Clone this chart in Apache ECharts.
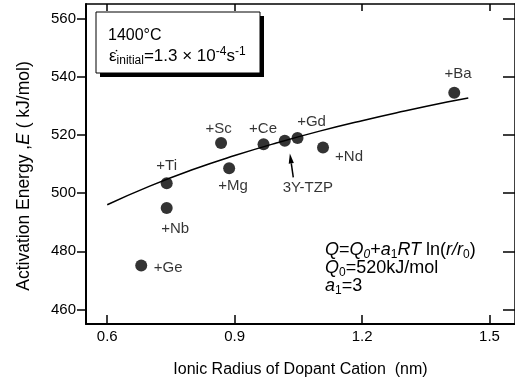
<!DOCTYPE html>
<html><head><meta charset="utf-8">
<script src="https://cdn.jsdelivr.net/npm/echarts@6/dist/echarts.min.js"></script>
<style>html,body{margin:0;padding:0;background:#fff}#c{width:515px;height:383px}</style>
</head><body><div id="c"></div>
<script>
// ---- data ----
const dopants = ['+Ge', '+Nb', '+Ti', '+Sc', '+Mg', '+Ce', '3Y-TZP', '+Gd', '+Nd', '+Ba'];
const radius  = [0.68, 0.74, 0.74, 0.868, 0.887, 0.968, 1.018, 1.048, 1.108, 1.417];
const energy  = [475.1, 494.9, 503.4, 517.2, 508.5, 516.8, 518.0, 518.9, 515.7, 534.5];
const fitRadius = [0.60, 0.70, 0.80, 0.90, 1.00, 1.10, 1.20, 1.30, 1.40, 1.45];
const fitEnergy = [496.0, 502.4, 508.0, 512.9, 517.3, 521.3, 524.9, 528.2, 531.3, 532.7];
const xTicks = [0.6, 0.9, 1.2, 1.5];
const xTickLabels = ['0.6', '0.9', '1.2', '1.5'];
const yTicks = [460, 480, 500, 520, 540, 560];
const yTickLabels = ['460', '480', '500', '520', '540', '560'];
const arrowTail = [1.038, 505.4];
const arrowHead = [1.030, 513.6];

// ---- styling ----
const FONT = '"Liberation Sans", Arial, Helvetica, sans-serif';
const labelOffsets = [[27, 2.5], [8.5, 21], [0, -17], [-2.5, -14], [4, 17], [-0.5, -15], [23, 47], [14, -16.5], [26, 9], [3.7, -19]];

const chart = echarts.init(document.getElementById('c'), null, {renderer: 'canvas'});

const axisColor = '#000';
const option = {
  animation: false,
  backgroundColor: '#fff',
  grid: {left: 86, top: 4, width: 434.3, height: 322, containLabel: false},
  xAxis: [
    {
      type: 'value', min: 0.55, max: 1.56, position: 'bottom',
      axisLine: {show: true, onZero: false, lineStyle: {color: axisColor, width: 2}},
      axisTick: {show: true, inside: true, length: 9, customValues: xTicks, lineStyle: {color: axisColor, width: 1.5}},
      axisLabel: {show: true, customValues: xTicks, margin: 5, fontSize: 15, color: '#000', fontFamily: FONT,
        formatter: v => xTickLabels[xTicks.findIndex(t => Math.abs(t - v) < 1e-6)] || ''},
      splitLine: {show: false},
      name: 'Ionic Radius of Dopant Cation  (nm)', nameLocation: 'middle', nameGap: 38,
      nameTextStyle: {fontSize: 16, color: '#000', fontFamily: FONT}
    },
    {
      type: 'value', min: 0.55, max: 1.56, position: 'top',
      axisLine: {show: true, onZero: false, lineStyle: {color: axisColor, width: 1.5}},
      axisTick: {show: true, inside: true, length: 7, customValues: xTicks, lineStyle: {color: axisColor, width: 1.5}},
      axisLabel: {show: false}, splitLine: {show: false}
    }
  ],
  yAxis: [
    {
      type: 'value', min: 455, max: 565, position: 'left',
      axisLine: {show: true, onZero: false, lineStyle: {color: axisColor, width: 2}},
      axisTick: {show: true, inside: false, length: 9, customValues: yTicks, lineStyle: {color: axisColor, width: 1.5}},
      axisLabel: {show: true, customValues: yTicks, margin: 10, fontSize: 15, color: '#000', fontFamily: FONT,
        formatter: v => yTickLabels[yTicks.indexOf(Math.round(v))] || ''},
      splitLine: {show: false}
    },
    {
      type: 'value', min: 455, max: 565, position: 'right',
      axisLine: {show: true, onZero: false, lineStyle: {color: axisColor, width: 1.5}},
      axisTick: {show: true, inside: true, length: 12, customValues: yTicks, lineStyle: {color: axisColor, width: 1.5}},
      axisLabel: {show: false}, splitLine: {show: false}
    }
  ],
  series: [
    {
      type: 'line', xAxisIndex: 0, yAxisIndex: 0,
      data: fitRadius.map((r, i) => [r, fitEnergy[i]]),
      smooth: true, symbol: 'none', silent: true, z: 2,
      lineStyle: {color: '#000', width: 1.5}
    },
    {
      type: 'scatter', xAxisIndex: 0, yAxisIndex: 0, z: 3,
      symbol: 'circle', symbolSize: 12,
      itemStyle: {color: '#000'},
      data: radius.map((r, i) => ({
        value: [r, energy[i]], name: dopants[i],
        label: {show: true, position: 'inside', offset: labelOffsets[i], formatter: dopants[i],
          fontSize: 15, color: '#000', fontFamily: FONT}
      }))
    },
    {
      type: 'custom', xAxisIndex: 0, yAxisIndex: 0, z: 4, clip: false, silent: true,
      data: [[arrowTail[0], arrowTail[1], arrowHead[0], arrowHead[1]]],
      renderItem: (params, api) => {
        const p0 = api.coord([api.value(0), api.value(1)]);
        const p1 = api.coord([api.value(2), api.value(3)]);
        const dx = p1[0] - p0[0], dy = p1[1] - p0[1];
        const L = Math.hypot(dx, dy), ux = dx / L, uy = dy / L;
        const hl = 10, hw = 2.6;
        const bx = p1[0] - ux * hl, by = p1[1] - uy * hl;
        return {type: 'group', children: [
          {type: 'line', shape: {x1: p0[0], y1: p0[1], x2: bx, y2: by}, style: {stroke: '#000', lineWidth: 1.5}},
          {type: 'polygon', shape: {points: [[p1[0], p1[1]], [bx - uy * hw, by + ux * hw], [bx + uy * hw, by - ux * hw]]}, style: {fill: '#000'}}
        ]};
      }
    }
  ],
  graphic: [
    // inset box with drop shadow
    {type: 'rect', z: 10, shape: {x: 100, y: 16, width: 164, height: 61}, style: {fill: '#000'}},
    {type: 'rect', z: 11, shape: {x: 96, y: 12, width: 164, height: 61}, style: {fill: '#fff', stroke: '#000', lineWidth: 1}},
    {type: 'text', z: 12, x: 108, y: 36, style: {text: '1400°C', fontSize: 16, fontFamily: FONT, fill: '#000', verticalAlign: 'middle'}},
    {type: 'text', z: 12, x: 109, y: 56, style: {
      text: '{m|ε̇}{sub|initial}{m|=1.3 × 10}{sup|-4}{m|s}{sup|-1}',
      verticalAlign: 'middle', fill: '#000',
      rich: {
        m: {fontSize: 17, fontFamily: FONT, lineHeight: 20, fill: '#000'},
        sub: {fontSize: 12, fontFamily: FONT, lineHeight: 12, verticalAlign: 'top', padding: [9, 0, 0, 0], fill: '#000'},
        sup: {fontSize: 12, fontFamily: FONT, lineHeight: 12, verticalAlign: 'top', fill: '#000'}
      }
    }},
    // formula annotation
    {type: 'text', z: 12, x: 325, y: 241, style: {
      text: '{qi|Q}{n|=}{qi|Q}{si|0}{n|+}{qi|a}{s|1}{qi|RT}{n| ln(}{qi|r/r}{s|0}{n|)}\n{qi|Q}{s|0}{n|=520kJ/mol}\n{qi|a}{s|1}{n|=3}',
      verticalAlign: 'top', fill: '#000',
      rich: {
        n: {fontSize: 18, fontFamily: FONT, lineHeight: 18, fill: '#000'},
        qi: {fontSize: 18, fontFamily: FONT, fontStyle: 'italic', lineHeight: 18, fill: '#000'},
        s: {fontSize: 12, fontFamily: FONT, lineHeight: 12, verticalAlign: 'top', padding: [8, 0, 0, 0], fill: '#000'},
        si: {fontSize: 12, fontFamily: FONT, fontStyle: 'italic', lineHeight: 12, verticalAlign: 'top', padding: [8, 0, 0, 0], fill: '#000'}
      }
    }},
    // y-axis title
    {type: 'text', z: 12, x: 24, y: 176, rotation: Math.PI / 2, style: {
      text: 'Activation Energy ,{i|E} ( kJ/mol)', fontSize: 17.5, fontFamily: FONT, fill: '#000',
      align: 'center', verticalAlign: 'middle',
      rich: {i: {fontSize: 17.5, fontFamily: FONT, fontStyle: 'italic', fill: '#000'}}
    }}
  ]
};
chart.setOption(option);
</script>
</body></html>
